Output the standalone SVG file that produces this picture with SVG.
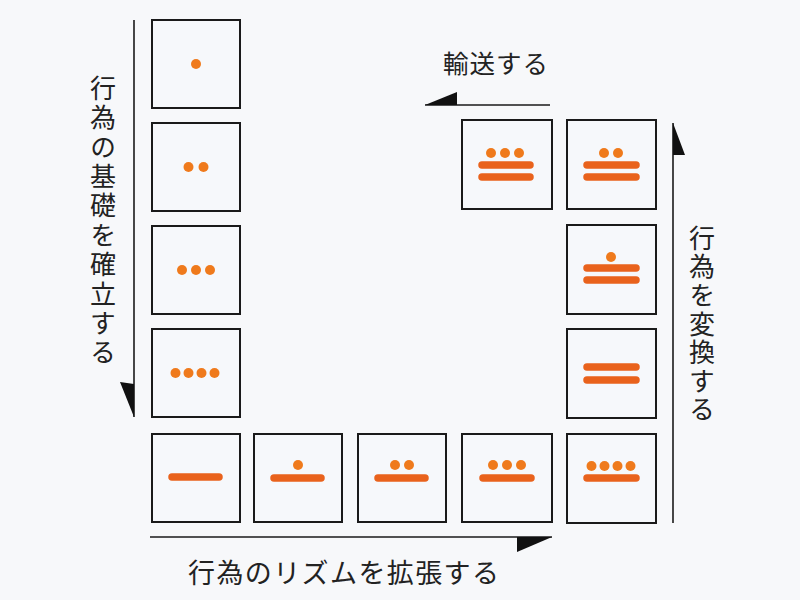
<svg xmlns="http://www.w3.org/2000/svg" width="800" height="600" viewBox="0 0 800 600">
<style>
.box{fill:#f6f8fb;stroke:#1a1a1a;stroke-width:2}
.dot{fill:#ef7a1c}
.bar{stroke:#e9621c;stroke-width:7.5;stroke-linecap:round}
.ln{stroke:#1a1a1a;stroke-width:1.6;fill:none}
.ah{fill:#111}
.t{font-family:"Noto Sans CJK JP","Noto Sans",sans-serif;fill:#222}
.v{writing-mode:vertical-rl;text-orientation:upright}
</style>
<rect width="800" height="600" fill="#f7f8fa"/>
<g id="connectors">
<line class="ln" x1="134" y1="20" x2="134" y2="417"/>
<polygon class="ah" points="120,382 134,384 134,417"/>
<line class="ln" x1="150" y1="537" x2="552" y2="537"/>
<polygon class="ah" points="517,537 552,537 517,552"/>
<line class="ln" x1="673" y1="123" x2="673" y2="523"/>
<polygon class="ah" points="673,123 685,155 673,155"/>
<line class="ln" x1="550" y1="105" x2="425" y2="105"/>
<polygon class="ah" points="425,105 457,92 457,105"/>
</g>
<g id="n1"><rect class="box" x="152" y="20" width="88" height="88"/><circle class="dot" cx="196" cy="64" r="5"/></g>
<g id="n2"><rect class="box" x="152" y="123" width="88" height="88"/><circle class="dot" cx="188.5" cy="167" r="5"/><circle class="dot" cx="203.5" cy="167" r="5"/></g>
<g id="n3"><rect class="box" x="152" y="226" width="88" height="88"/><circle class="dot" cx="182" cy="270" r="5"/><circle class="dot" cx="196" cy="270" r="5"/><circle class="dot" cx="210" cy="270" r="5"/></g>
<g id="n4"><rect class="box" x="152" y="329" width="88" height="88"/><circle class="dot" cx="175.5" cy="373" r="5"/><circle class="dot" cx="188.5" cy="373" r="5"/><circle class="dot" cx="201.5" cy="373" r="5"/><circle class="dot" cx="214.5" cy="373" r="5"/></g>
<g id="n5"><rect class="box" x="152" y="434" width="88" height="88"/><line class="bar" x1="172" y1="477" x2="219" y2="477"/></g>
<g id="n6"><rect class="box" x="254" y="434" width="88" height="88"/><circle class="dot" cx="298" cy="465" r="5"/><line class="bar" x1="274" y1="478" x2="321" y2="478"/></g>
<g id="n7"><rect class="box" x="358" y="434" width="88" height="88"/><circle class="dot" cx="395" cy="465" r="5"/><circle class="dot" cx="409" cy="465" r="5"/><line class="bar" x1="378" y1="478" x2="425" y2="478"/></g>
<g id="n8"><rect class="box" x="462" y="434" width="90" height="88"/><circle class="dot" cx="493" cy="465" r="5"/><circle class="dot" cx="507" cy="465" r="5"/><circle class="dot" cx="521" cy="465" r="5"/><line class="bar" x1="483" y1="478" x2="531" y2="478"/></g>
<g id="n9"><rect class="box" x="567" y="434" width="89" height="89"/><circle class="dot" cx="591.5" cy="466" r="5"/><circle class="dot" cx="604.5" cy="466" r="5"/><circle class="dot" cx="617.5" cy="466" r="5"/><circle class="dot" cx="630.5" cy="466" r="5"/><line class="bar" x1="587" y1="478" x2="636" y2="478"/></g>
<g id="n10"><rect class="box" x="567" y="329" width="89" height="89"/><line class="bar" x1="587" y1="367" x2="636" y2="367"/><line class="bar" x1="587" y1="380" x2="636" y2="380"/></g>
<g id="n11"><rect class="box" x="567" y="225" width="89" height="89"/><circle class="dot" cx="611" cy="257" r="5"/><line class="bar" x1="587" y1="268" x2="636" y2="268"/><line class="bar" x1="587" y1="280" x2="636" y2="280"/></g>
<g id="n12"><rect class="box" x="567" y="120" width="89" height="89"/><circle class="dot" cx="604" cy="153" r="5"/><circle class="dot" cx="618" cy="153" r="5"/><line class="bar" x1="587" y1="165" x2="636" y2="165"/><line class="bar" x1="587" y1="177" x2="636" y2="177"/></g>
<g id="n13"><rect class="box" x="462" y="120" width="90" height="89"/><circle class="dot" cx="491" cy="153" r="5"/><circle class="dot" cx="505" cy="153" r="5"/><circle class="dot" cx="519" cy="153" r="5"/><line class="bar" x1="482" y1="165" x2="530" y2="165"/><line class="bar" x1="482" y1="177" x2="530" y2="177"/></g>
<g id="labels">
<text class="t" x="443" y="73" font-size="25.5" letter-spacing="1">輸送する</text>
<text class="t v" x="103" y="75" font-size="26" letter-spacing="3.4">行為の基礎を確立する</text>
<text class="t v" x="702" y="225" font-size="26" letter-spacing="2.6">行為を変換する</text>
<text class="t" x="188" y="583" font-size="27" letter-spacing="1.4">行為のリズムを拡張する</text>
</g>
</svg>
